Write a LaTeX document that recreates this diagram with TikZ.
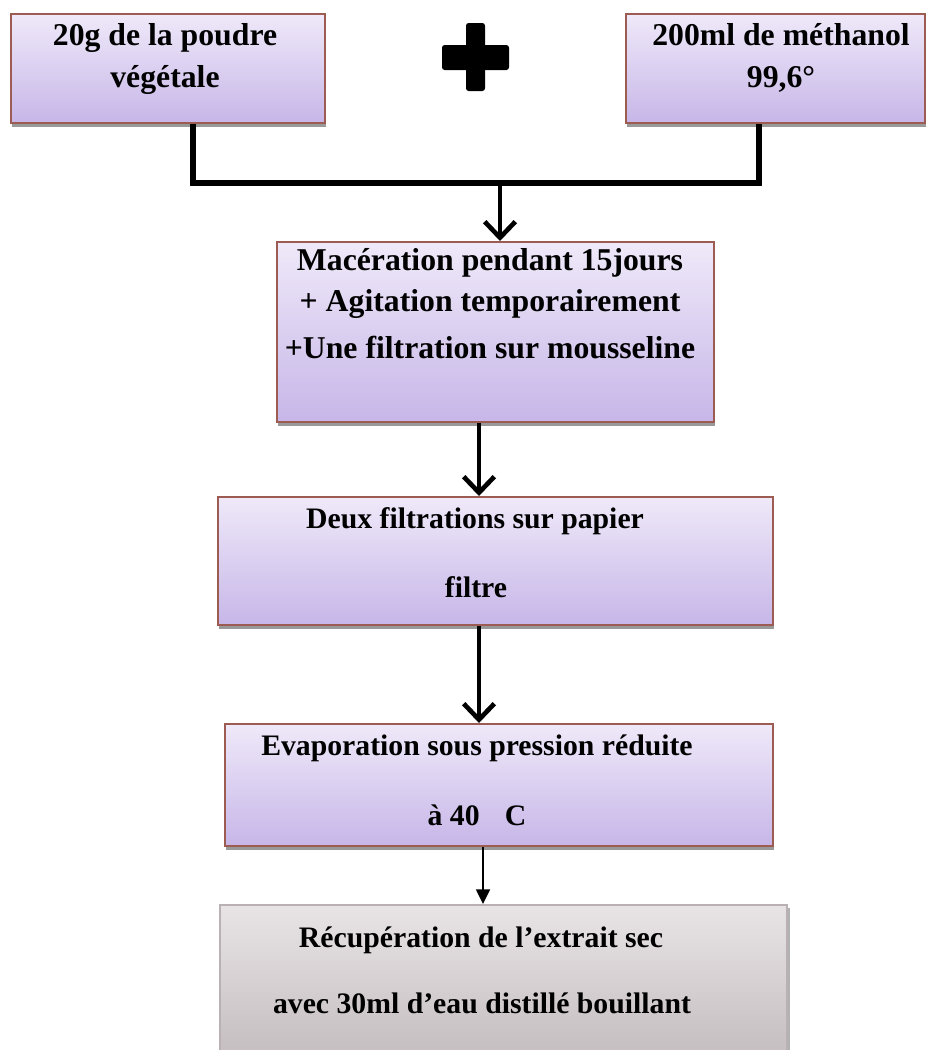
\documentclass[tikz,border=0pt]{standalone}
\usepackage{fontspec}
\setmainfont{Liberation Serif}
\usetikzlibrary{arrows.meta,shadows}
\definecolor{lavtop}{HTML}{EFE9F9}
\definecolor{lavbot}{HTML}{C7B6E8}
\definecolor{boxline}{HTML}{9C5C52}
\definecolor{greytop}{HTML}{E8E4E6}
\definecolor{greybot}{HTML}{C2BABC}
\definecolor{greyline}{HTML}{B9B1B3}

\begin{document}
\begin{tikzpicture}[x=0.75pt,y=-0.75pt,>={Straight Barb[length=12pt,width=23pt]},
    box/.style={draw=boxline,line width=1.5pt,top color=lavtop,bottom color=lavbot,inner sep=0pt,
      drop shadow={shadow xshift=1pt,shadow yshift=-3pt,fill=black!40,opacity=1}},
    greybox/.style={draw=greyline,line width=1.5pt,top color=greytop,bottom color=greybot,inner sep=0pt,
      drop shadow={shadow xshift=2pt,shadow yshift=-2pt,fill=black!30,opacity=1}},
    lbl/.style={anchor=base,inner sep=0pt,font=\bfseries\fontsize{23.8}{28}\selectfont},
    lblsmall/.style={anchor=base,inner sep=0pt,font=\bfseries\fontsize{22.3}{26}\selectfont},
    bracket/.style={line width=4pt},
    flow/.style={->,line width=3.5pt},
    thinflow/.style={-{Triangle[length=11pt,width=10.5pt]},line width=1.1pt}]
        \useasboundingbox (0,0) rectangle (927,1050);
        \clip (0,0) rectangle (927,1050);
        \node[box,minimum width=235.5pt,minimum height=81.75pt] (pdr) at (168,68.5) {};
        \node[box,minimum width=224.25pt,minimum height=81.75pt] (met) at (775.5,68.5) {};
        \node[box,minimum width=327.75pt,minimum height=135pt] (mac) at (495.5,332) {};
        \node[box,minimum width=416.25pt,minimum height=96pt] (filt) at (495.5,561) {};
        \node[box,minimum width=411pt,minimum height=91.5pt] (evap) at (499,785) {};
        \node[greybox,minimum width=425.25pt,minimum height=123.75pt] (recup) at (503.5,987.5) {};
        \fill[rounded corners=2pt] (442,45) rectangle (509,70);
        \fill[rounded corners=2pt] (466,23) rectangle (485,91);
        \node[lbl] (pdr1) at (165,45) {20g de la poudre};
        \node[lbl] (pdr2) at (165,87) {végétale};
        \node[lbl] (met1) at (781,45) {200ml de méthanol};
        \node[lbl] (met2) at (781,87) {99,6°};
        \node[lbl] (mac1) at (490,270) {Macération pendant 15jours};
        \node[lbl] (mac2) at (490,311) {+ Agitation temporairement};
        \node[lbl] (mac3) at (490,358) {+Une filtration sur mousseline};
        \node[lblsmall] (filt1) at (475,528) {Deux filtrations sur papier};
        \node[lblsmall] (filt2) at (476,597) {filtre};
        \node[lblsmall] (evap1) at (477,755) {Evaporation sous pression réduite};
        \node[lblsmall] (evap2) at (477,825) {à 40\hspace{0.85em}C};
        \node[lblsmall] (recup1) at (481,947) {Récupération de l’extrait sec};
        \node[lblsmall] (recup2) at (482,1013) {avec 30ml d’eau distillé bouillant};
        \coordinate (d1) at (193,183);
        \coordinate (d2) at (759,183);
        \coordinate (join) at (500,183);
        \coordinate (ax) at (479,0);
        \coordinate (ax2) at (483,0);
        \draw[bracket] (d1 |- pdr.south) -- (d1) -- (d2) -- (d2 |- met.south);
        \draw[flow] (join) -- (join |- mac.north);
        \draw[flow] (ax |- mac.south) -- (ax |- filt.north);
        \draw[flow] (ax |- filt.south) -- (ax |- evap.north);
        \draw[thinflow] (ax2 |- evap.south) -- (ax2 |- recup.north);
      \end{tikzpicture}
\end{document}
